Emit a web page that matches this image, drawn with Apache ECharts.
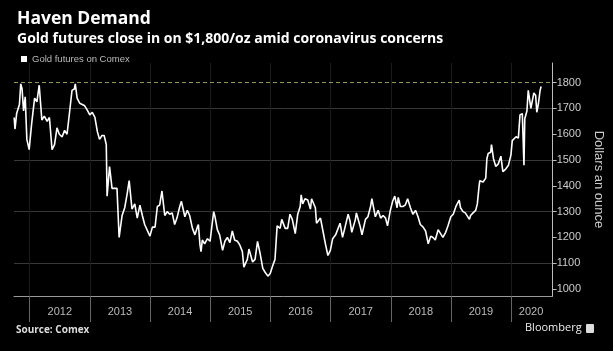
<!DOCTYPE html>
<html>
<head>
<meta charset="utf-8">
<script src="https://cdn.jsdelivr.net/npm/echarts@6/dist/echarts.min.js"></script>
<style>
  html, body { margin: 0; padding: 0; background: #000; }
  #chart { width: 613px; height: 351px; }
</style>
</head>
<body>
<div id="chart"></div>
<script>
// gold futures (roughly two points a month)
const dates = [
  '2011-09-29','2011-10-04','2011-10-14','2011-10-31','2011-11-08','2011-11-16','2011-11-25','2011-12-05','2011-12-15','2011-12-29',
  '2012-01-13','2012-01-31','2012-02-14','2012-02-28','2012-03-15','2012-03-30','2012-04-16','2012-04-30','2012-05-16','2012-05-31','2012-06-15','2012-06-29','2012-07-16','2012-07-31','2012-08-15','2012-08-31','2012-09-14','2012-09-28','2012-10-04','2012-10-15','2012-10-31','2012-11-15','2012-11-30','2012-12-14','2012-12-31',
  '2013-01-15','2013-01-31','2013-02-15','2013-02-28','2013-03-15','2013-03-28','2013-04-10','2013-04-15','2013-04-30','2013-05-15','2013-05-31','2013-06-14','2013-06-27','2013-07-15','2013-07-31','2013-08-15','2013-08-27','2013-09-13','2013-09-30','2013-10-15','2013-10-31','2013-11-15','2013-11-29','2013-12-13','2013-12-31',
  '2014-01-15','2014-01-31','2014-02-14','2014-02-28','2014-03-14','2014-03-31','2014-04-15','2014-04-30','2014-05-15','2014-05-30','2014-06-13','2014-06-30','2014-07-10','2014-07-31','2014-08-15','2014-08-29','2014-09-15','2014-09-30','2014-10-15','2014-10-21','2014-10-31','2014-11-06','2014-11-14','2014-11-28','2014-12-15','2014-12-31',
  '2015-01-15','2015-01-22','2015-01-30','2015-02-13','2015-02-27','2015-03-17','2015-03-31','2015-04-15','2015-04-30','2015-05-15','2015-05-29','2015-06-15','2015-06-30','2015-07-15','2015-07-24','2015-08-14','2015-08-24','2015-09-15','2015-09-30','2015-10-15','2015-10-30','2015-11-16','2015-11-30','2015-12-17','2015-12-31',
  '2016-01-15','2016-01-29','2016-02-11','2016-02-29','2016-03-10','2016-03-31','2016-04-15','2016-04-29','2016-05-13','2016-05-31','2016-06-15','2016-06-30','2016-07-06','2016-07-15','2016-07-29','2016-08-15','2016-08-31','2016-09-07','2016-09-30','2016-10-07','2016-10-31','2016-11-15','2016-11-30','2016-12-15','2016-12-30',
  '2017-01-13','2017-01-31','2017-02-15','2017-02-27','2017-03-14','2017-03-31','2017-04-17','2017-04-28','2017-05-09','2017-05-31','2017-06-06','2017-06-30','2017-07-10','2017-07-31','2017-08-15','2017-08-31','2017-09-08','2017-09-29','2017-10-16','2017-10-31','2017-11-15','2017-11-30','2017-12-12','2017-12-29',
  '2018-01-12','2018-01-25','2018-02-08','2018-02-15','2018-02-28','2018-03-15','2018-03-29','2018-04-13','2018-04-30','2018-05-15','2018-05-31','2018-06-15','2018-06-29','2018-07-16','2018-07-31','2018-08-16','2018-08-31','2018-09-14','2018-09-28','2018-10-15','2018-10-26','2018-11-13','2018-11-30','2018-12-14','2018-12-31',
  '2019-01-15','2019-01-31','2019-02-20','2019-02-28','2019-03-15','2019-03-29','2019-04-23','2019-04-30','2019-05-15','2019-05-31','2019-06-10','2019-06-20','2019-06-25','2019-07-15','2019-07-31','2019-08-07','2019-08-15','2019-08-30','2019-09-04','2019-09-16','2019-09-30','2019-10-15','2019-10-31','2019-11-12','2019-11-29','2019-12-16','2019-12-31',
  '2020-01-08','2020-01-31','2020-02-14','2020-02-24','2020-03-09','2020-03-19','2020-03-24','2020-04-06','2020-04-14','2020-04-30','2020-05-18','2020-05-29','2020-06-05','2020-06-15','2020-06-25','2020-07-01'
];
const prices = [
  1665,1620,1680,1715,1795,1775,1690,1745,1580,1540,
  1640,1740,1725,1790,1655,1670,1650,1665,1540,1560,1625,1600,1590,1615,1600,1690,1770,1775,1795,1740,1720,1715,1710,1695,1675,
  1685,1665,1610,1580,1595,1595,1560,1360,1475,1390,1390,1390,1200,1285,1315,1370,1420,1310,1330,1275,1325,1285,1250,1230,1205,
  1240,1240,1320,1325,1380,1285,1300,1290,1295,1250,1275,1320,1340,1280,1305,1285,1235,1210,1240,1250,1170,1145,1190,1175,1195,1185,
  1265,1300,1280,1230,1210,1150,1185,1200,1180,1225,1190,1185,1170,1145,1085,1115,1155,1105,1115,1185,1140,1080,1065,1050,1060,
  1090,1115,1245,1235,1270,1235,1235,1290,1270,1215,1290,1320,1365,1330,1350,1345,1310,1350,1315,1255,1275,1225,1175,1130,1150,
  1195,1210,1235,1255,1200,1245,1290,1265,1220,1270,1295,1240,1210,1270,1280,1320,1350,1280,1305,1275,1285,1275,1245,1305,
  1340,1360,1315,1355,1320,1320,1325,1350,1315,1290,1305,1280,1250,1240,1225,1175,1205,1200,1190,1230,1235,1200,1220,1245,1280,
  1290,1320,1345,1315,1300,1295,1270,1285,1295,1305,1330,1395,1420,1415,1430,1505,1525,1530,1560,1505,1475,1485,1515,1455,1465,1480,1520,
  1575,1590,1585,1675,1680,1480,1660,1690,1770,1700,1760,1750,1685,1720,1770,1785
];

// year boundaries (ticks) and where each year label sits
const yearTicks = ['2012-01-01','2013-01-01','2014-01-01','2015-01-01','2016-01-01','2017-01-01','2018-01-01','2019-01-01','2020-01-01'];
const yearLabels = ['2012-07-02','2013-07-02','2014-07-02','2015-07-02','2016-07-02','2017-07-02','2018-07-02','2019-07-02','2020-05-01'];
const yTicks = [1000, 1100, 1200, 1300, 1400, 1500, 1600, 1700, 1800];
const refLevel = 1800;

const toTime = s => {
  const p = s.split('-').map(Number);
  return Date.UTC(p[0], p[1] - 1, p[2]);
};

const chart = echarts.init(document.getElementById('chart'));

const option = {
  backgroundColor: '#000',
  animation: false,
  title: {
    text: 'Haven Demand',
    subtext: 'Gold futures close in on $1,800/oz amid coronavirus concerns',
    left: 12,
    top: 5,
    itemGap: 4,
    textStyle: {color: '#fff', fontSize: 17.5, fontWeight: 'bold', fontFamily: 'Open Sans'},
    subtextStyle: {color: '#fff', fontSize: 14, fontWeight: 'bold', fontFamily: 'Open Sans'}
  },
  legend: {
    data: ['Gold futures on Comex'],
    left: 16,
    top: 49,
    icon: 'rect',
    itemWidth: 6,
    itemHeight: 6,
    itemGap: 4,
    textStyle: {color: '#bbb', fontSize: 9.5, fontFamily: 'Liberation Sans'}
  },
  grid: {left: 14, right: 60, top: 63, bottom: 55},
  xAxis: {
    type: 'value',
    min: toTime('2011-09-28'),
    max: toTime('2020-09-09'),
    axisLine: {lineStyle: {color: '#999', width: 1}},
    axisTick: {
      customValues: yearTicks.map(toTime),
      length: 26,
      lineStyle: {color: '#666'}
    },
    axisLabel: {
      customValues: yearLabels.map(toTime),
      formatter: v => String(new Date(v).getUTCFullYear()),
      color: '#bbb',
      fontSize: 11,
      margin: 10,
      fontFamily: 'Liberation Sans'
    },
    splitLine: {show: true, lineStyle: {color: '#1a1a1a', width: 1}}
  },
  yAxis: {
    type: 'value',
    position: 'right',
    min: 973,
    max: 1876,
    name: 'Dollars an ounce',
    nameLocation: 'middle',
    nameRotate: -90,
    nameGap: 32,
    nameTextStyle: {color: '#ccc', fontSize: 13, fontFamily: 'Liberation Sans'},
    axisLine: {show: true, lineStyle: {color: '#bbb', width: 1}},
    axisTick: {show: true, customValues: yTicks, length: 4, lineStyle: {color: '#bbb'}},
    axisLabel: {
      customValues: yTicks,
      formatter: v => String(v),
      color: '#ccc',
      fontSize: 11,
      margin: 4,
      fontFamily: 'Liberation Sans'
    },
    splitLine: {show: true, lineStyle: {color: ['transparent', '#383838'], width: 1}}
  },
  series: [{
    name: 'Gold futures on Comex',
    type: 'line',
    data: dates.map((d, i) => [toTime(d), prices[i]]),
    showSymbol: false,
    lineStyle: {color: '#fff', width: 1.6},
    itemStyle: {color: '#fff'},
    markLine: {
      silent: true,
      symbol: ['none', 'none'],
      label: {show: false},
      lineStyle: {color: '#8f9a55', type: [4, 3], width: 1},
      data: [{yAxis: refLevel}]
    }
  }],
  graphic: [
    {
      type: 'text', left: 16, top: 325,
      style: {text: 'Source: Comex', fill: '#ddd', font: 'bold 10px "Open Sans"'}
    },
    {
      type: 'text', left: 525, top: 322,
      style: {text: 'Bloomberg', fill: '#eee', font: '11px "Open Sans"'}
    },
    {
      type: 'rect', left: 586, top: 324,
      shape: {width: 8, height: 9, r: 1},
      style: {fill: '#ddd'}
    }
  ]
};

chart.setOption(option);
</script>
</body>
</html>
